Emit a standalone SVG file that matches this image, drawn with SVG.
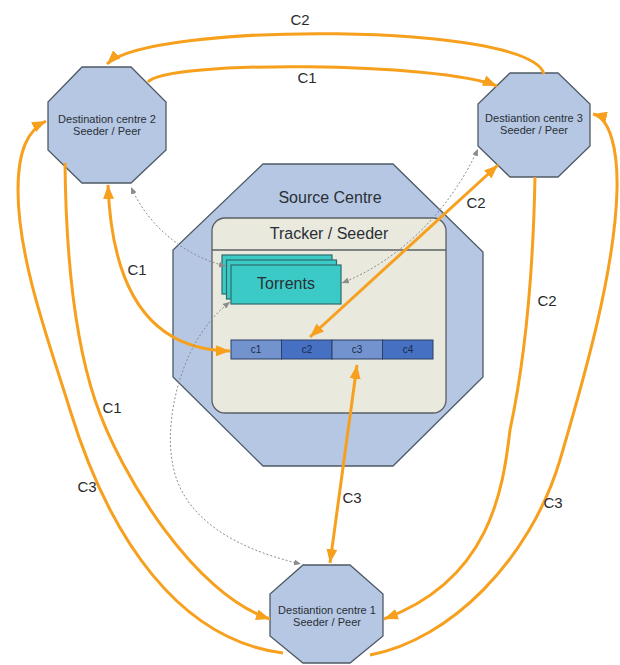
<svg xmlns="http://www.w3.org/2000/svg" width="620" height="665" viewBox="0 0 620 665">
<style>
.oct{fill:#b5c7e3;stroke:#4f5a66;stroke-width:1.3}
.nt{font-family:"Liberation Sans",Arial,sans-serif;fill:#2a2f36;text-anchor:middle}
.small{font-size:11px}
.big{font-size:16px}
.lbl{font-family:"Liberation Sans",Arial,sans-serif;font-size:15px;fill:#2a2a2a;text-anchor:middle}
.or{fill:none;stroke:#f7a01e;stroke-width:3}
.gr{fill:none;stroke:#8c8c8c;stroke-width:1;stroke-dasharray:2 2}
.tor{fill:#3ccac7;stroke:#2c6d6e;stroke-width:1.2}
.ck{font-family:"Liberation Sans",Arial,sans-serif;font-size:10px;fill:#1c2a4a;text-anchor:middle}
</style>
<defs>
<marker id="ao" viewBox="0 0 14 11" refX="14" refY="5.5" markerWidth="14" markerHeight="11" markerUnits="userSpaceOnUse" orient="auto-start-reverse">
<path d="M0,0 L14,5.5 L0,11 z" fill="#f7a01e"/>
</marker>
<marker id="ag" viewBox="0 0 7 6" refX="7" refY="3" markerWidth="7" markerHeight="6" markerUnits="userSpaceOnUse" orient="auto-start-reverse">
<path d="M0,0 L7,3 L0,6 z" fill="#8c8c8c"/>
</marker>
</defs>

<g id="source-centre">
<polygon class="oct" points="263,164 393,164 483,252 483,377 393,466 263,466 173,377 173,250"/>
<text class="nt big" x="330" y="203">Source Centre</text>
</g>

<g id="tracker">
<rect x="212" y="218" width="234" height="195" rx="13" ry="13" fill="#e9e9de" stroke="#5a5f64" stroke-width="1.3"/>
<line x1="212" y1="250" x2="446" y2="250" stroke="#5a5f64" stroke-width="1.3"/>
<text class="nt big" x="329" y="239">Tracker / Seeder</text>
</g>

<g id="torrents">
<rect class="tor" x="222" y="255" width="110" height="39"/>
<rect class="tor" x="226.5" y="260" width="110" height="39"/>
<rect class="tor" x="231" y="265" width="110" height="39"/>
<text class="nt big" x="286" y="289" fill="#1a2a2a">Torrents</text>
</g>

<g id="chunks">
<rect x="231" y="340" width="50.5" height="19" fill="#7393cf" stroke="#2c3e66" stroke-width="1"/>
<rect x="281.5" y="340" width="50.5" height="19" fill="#4670c2" stroke="#2c3e66" stroke-width="1"/>
<rect x="332" y="340" width="50.5" height="19" fill="#7393cf" stroke="#2c3e66" stroke-width="1"/>
<rect x="382.5" y="340" width="50.5" height="19" fill="#4670c2" stroke="#2c3e66" stroke-width="1"/>
<text class="ck" x="256" y="353">c1</text>
<text class="ck" x="307" y="353">c2</text>
<text class="ck" x="357" y="353">c3</text>
<text class="ck" x="408" y="353">c4</text>
</g>

<g id="dest2">
<polygon class="oct" points="82,67 131,67 166,102 166,150 131,183 82,183 48,150 48,102"/>
<text class="nt small" x="107" y="123">Destination centre 2</text>
<text class="nt small" x="107" y="135">Seeder / Peer</text>
</g>

<g id="dest3">
<polygon class="oct" points="510,73 558,73 590,104 590,146 558,177 510,177 478,146 478,104"/>
<text class="nt small" x="534" y="122">Destiantion centre 3</text>
<text class="nt small" x="534" y="134">Seeder / Peer</text>
</g>

<g id="dest1">
<polygon class="oct" points="303,565 350,565 383,594 383,636 350,663 303,663 270,636 270,594"/>
<text class="nt small" x="327" y="614">Destiantion centre 1</text>
<text class="nt small" x="327" y="626">Seeder / Peer</text>
</g>

<g id="connectors">
<path class="or" d="M544,74 C530,22 150,22 107,64" marker-end="url(#ao)"/>
<path class="or" d="M148,82 C165,60 440,62 497,86" marker-end="url(#ao)"/>
<path class="or" d="M283,653 C180,640 110,540 70,410 C50,345 18,260 18,190 C18,150 28,130 46,121" marker-end="url(#ao)"/>
<path class="or" d="M65,163 C66,260 75,340 95,400 C120,475 195,595 270,619" marker-end="url(#ao)"/>
<path class="or" d="M535,177 C533,280 525,360 510,430 C503,490 490,580 384,619" marker-end="url(#ao)"/>
<path class="or" d="M370,655 C450,640 530,560 560,460 C585,375 615,270 617,190 C618,150 610,118 593,114" marker-end="url(#ao)"/>
<path class="or" d="M108,185 C112,290 150,350 230,351" marker-start="url(#ao)" marker-end="url(#ao)"/>
<path class="or" d="M498,165 L310,337" marker-start="url(#ao)" marker-end="url(#ao)"/>
<path class="or" d="M357,365 L330,563" marker-start="url(#ao)" marker-end="url(#ao)"/>
<path class="gr" d="M226,266 C190,258 150,230 131,187" marker-start="url(#ag)" marker-end="url(#ag)"/>
<path class="gr" d="M342,283 C400,260 450,210 478,149" marker-start="url(#ag)" marker-end="url(#ag)"/>
<path class="gr" d="M230,302 C180,340 165,420 172,460 C180,520 240,550 301,564" marker-start="url(#ag)" marker-end="url(#ag)"/>
<text class="lbl" x="300" y="25">C2</text>
<text class="lbl" x="307" y="83">C1</text>
<text class="lbl" x="137" y="275">C1</text>
<text class="lbl" x="112" y="413">C1</text>
<text class="lbl" x="87" y="492">C3</text>
<text class="lbl" x="476" y="208">C2</text>
<text class="lbl" x="547" y="306">C2</text>
<text class="lbl" x="352" y="503">C3</text>
<text class="lbl" x="553" y="508">C3</text>
</g>
</svg>
